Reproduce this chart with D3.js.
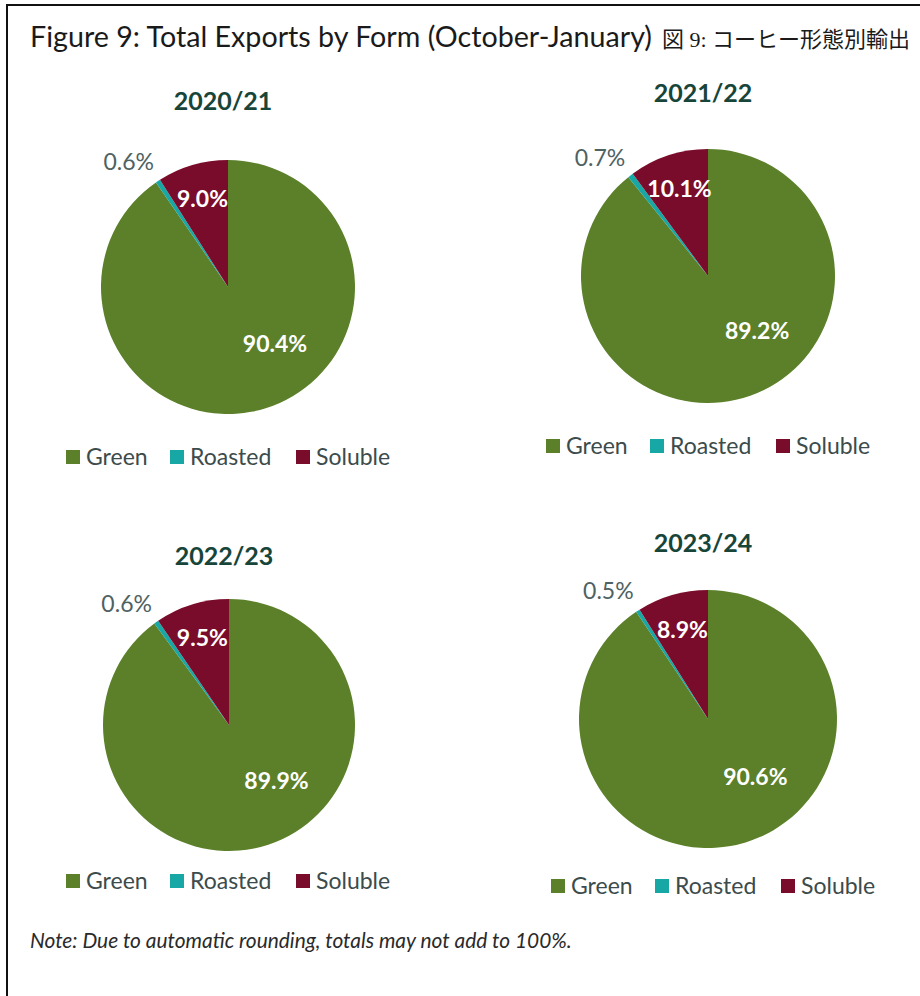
<!DOCTYPE html>
<html>
<head>
<meta charset="utf-8">
<script src="https://cdn.jsdelivr.net/npm/d3@7"></script>
<style>
  body { margin: 0; background: #fff; }
  svg { display: block; }
</style>
</head>
<body>
<div id="chart"></div>
<script>
const width = 920;
const height = 996;

// data
const forms = ['Green', 'Roasted', 'Soluble'];
const seasons = ['2020/21', '2021/22', '2022/23', '2023/24'];
const green = [90.4, 89.2, 89.9, 90.6];
const roasted = [0.6, 0.7, 0.6, 0.5];
const soluble = [9.0, 10.1, 9.5, 8.9];

const colors = ['#5b8029', '#17a8a6', '#7a0c2b'];

// where each small pie sits on the page
const layout = [
  { cx: 228, cy: 287, r: 127, ty: 110, lx: 66, ly: 457 },
  { cx: 708, cy: 276, r: 127, ty: 102, lx: 546, ly: 446 },
  { cx: 229, cy: 725, r: 126, ty: 565, lx: 66, ly: 881 },
  { cx: 708, cy: 719, r: 129, ty: 552, lx: 551, ly: 886 }
];

const font = 'Lato, sans-serif';

// stretch a text's font size so it spans the width seen in the source
function fitWidth(sel, target) {
  const w = sel.node().getComputedTextLength();
  const fs = +sel.attr('font-size');
  sel.attr('font-size', (fs * target / w).toFixed(2));
}

const svg = d3.select('#chart')
  .append('svg')
  .attr('width', width)
  .attr('height', height);

// frame
svg.append('rect')
  .attr('x', 7)
  .attr('y', 5)
  .attr('width', width + 20)
  .attr('height', height + 20)
  .attr('fill', 'none')
  .attr('stroke', '#111')
  .attr('stroke-width', 2);

const header = svg.append('text')
  .attr('x', 30)
  .attr('y', 47)
  .attr('font-family', font)
  .attr('font-size', 25)
  .attr('fill', '#1a1a1a')
  .text('Figure 9: Total Exports by Form (October-January)');
fitWidth(header, 622);

svg.append('text')
  .attr('x', 662)
  .attr('y', 47)
  .attr('font-family', '"Liberation Serif", "Noto Sans CJK JP", serif')
  .attr('font-size', 22)
  .attr('fill', '#1a1a1a')
  .text('図 9: コーヒー形態別輸出');

const pie = d3.pie().sort(null).value(d => d.value);

seasons.forEach((season, i) => {
  const L = layout[i];
  const values = [green[i], roasted[i], soluble[i]];
  const arcs = pie(forms.map((f, k) => ({ form: f, value: values[k], idx: k })));

  const g = svg.append('g').attr('transform', `translate(${L.cx},${L.cy})`);
  const arc = d3.arc().innerRadius(0).outerRadius(L.r);

  g.selectAll('path')
    .data(arcs)
    .enter()
    .append('path')
    .attr('d', arc)
    .attr('fill', d => colors[d.data.idx]);

  // season title
  svg.append('text')
    .attr('x', L.cx - 5)
    .attr('y', L.ty)
    .attr('text-anchor', 'middle')
    .attr('font-family', font)
    .attr('font-weight', 'bold')
    .attr('font-size', 25)
    .attr('fill', '#18453a')
    .text(season);

  // labels
  arcs.forEach(d => {
    const mid = (d.startAngle + d.endAngle) / 2;
    let rad, ang, fill, weight;
    if (d.data.form === 'Roasted') {
      rad = L.r * 1.26; ang = mid - 0.085; fill = '#4e6262'; weight = 'normal';
    } else if (d.data.form === 'Green') {
      rad = L.r * 0.58; ang = mid - 0.39; fill = '#fff'; weight = 'bold';
    } else {
      rad = L.r * 0.72; ang = mid; fill = '#fff'; weight = 'bold';
    }
    g.append('text')
      .attr('x', Math.sin(ang) * rad)
      .attr('y', -Math.cos(ang) * rad)
      .attr('dy', '0.35em')
      .attr('text-anchor', 'middle')
      .attr('font-family', font)
      .attr('font-weight', weight)
      .attr('font-size', 23)
      .attr('fill', fill)
      .text(d3.format('.1f')(d.data.value) + '%');
  });

  // legend
  const leg = svg.append('g').attr('transform', `translate(${L.lx},${L.ly})`);
  const offsets = [0, 104, 230];
  forms.forEach((f, k) => {
    const item = leg.append('g').attr('transform', `translate(${offsets[k]},0)`);
    item.append('rect')
      .attr('x', 0)
      .attr('y', -7)
      .attr('width', 14)
      .attr('height', 14)
      .attr('fill', colors[k]);
    item.append('text')
      .attr('x', 20)
      .attr('y', 0)
      .attr('dy', '0.35em')
      .attr('font-family', font)
      .attr('font-size', 23)
      .attr('fill', '#3c4b4b')
      .text(f);
  });
});

const note = svg.append('text')
  .attr('x', 30)
  .attr('y', 948)
  .attr('font-family', font)
  .attr('font-style', 'italic')
  .attr('font-size', 20)
  .attr('fill', '#2a2a2a')
  .text('Note: Due to automatic rounding, totals may not add to 100%.');
fitWidth(note, 542);
</script>
</body>
</html>
